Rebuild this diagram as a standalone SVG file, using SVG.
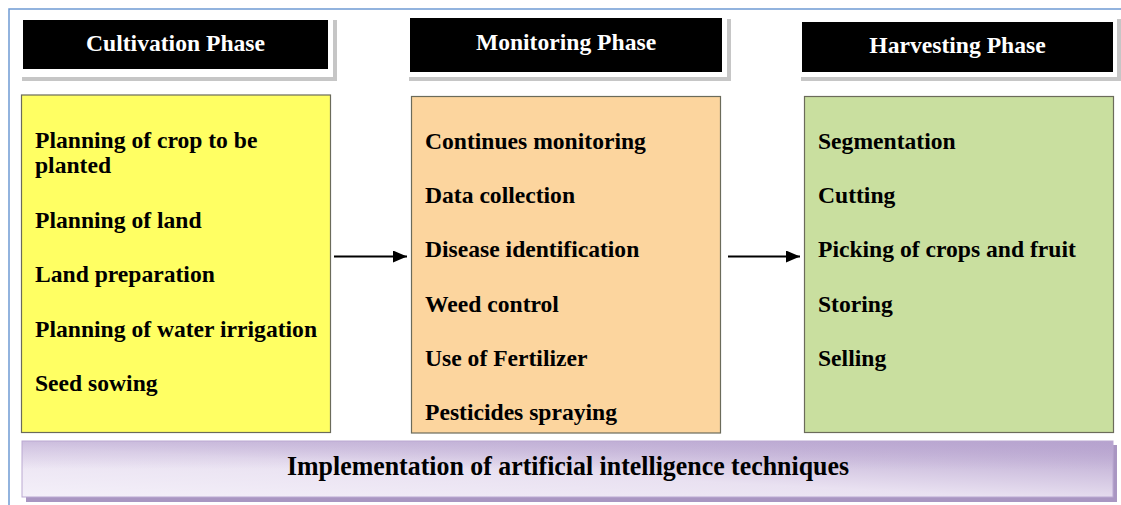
<svg xmlns="http://www.w3.org/2000/svg" width="1121" height="505" viewBox="0 0 1121 505">
  <style>
    .hdr-panel { fill: #ffffff; }
    .hdr-shadow { fill: #c6c6c6; }
    .hdr-box { fill: #000000; }
    .hdr-text { font-family: "Liberation Serif", "Times New Roman", serif; font-weight: bold; font-size: 23.6px; fill: #ffffff; text-anchor: middle; }
    .phase-box { stroke: #6b6b5a; stroke-width: 1.2; }
    .item { font-family: "Liberation Serif", "Times New Roman", serif; font-weight: bold; font-size: 23.6px; fill: #000000; }
    .conn { stroke: #000000; stroke-width: 2; fill: none; }
    .ai-text { font-family: "Liberation Serif", "Times New Roman", serif; font-weight: bold; font-size: 27px; fill: #000000; }
  </style>
  <defs>
    <marker id="arrowhead" viewBox="0 0 14 12" refX="14" refY="6" markerWidth="14" markerHeight="12" markerUnits="userSpaceOnUse" orient="auto">
      <path d="M0,0 L14,6 L0,12 Z" fill="#000000"/>
    </marker>
    <linearGradient id="aiFill" x1="0" y1="1" x2="1" y2="0">
      <stop offset="0" stop-color="#f4f0f9"/>
      <stop offset="0.45" stop-color="#e9e1f1"/>
      <stop offset="1" stop-color="#b29dcb"/>
    </linearGradient>
    <linearGradient id="aiTop" x1="0" y1="0" x2="0" y2="1">
      <stop offset="0" stop-color="#b9a6d1" stop-opacity="0.55"/>
      <stop offset="0.5" stop-color="#b9a6d1" stop-opacity="0"/>
    </linearGradient>
  </defs>

  <!-- page background and frame -->
  <rect x="0" y="0" width="1121" height="505" fill="#ffffff"/>
  <path d="M9,505 L9,9 L1121,9" fill="none" stroke="#6f9bd3" stroke-width="1.5"/>

  <!-- phase headers -->
  <g id="header-cultivation">
    <rect class="hdr-shadow" x="22" y="20" width="315" height="61"/>
    <rect class="hdr-panel" x="18" y="17" width="315" height="60"/>
    <rect class="hdr-box" x="23" y="20" width="305" height="49"/>
    <text class="hdr-text" x="175.5" y="50.5">Cultivation Phase</text>
  </g>
  <g id="header-monitoring">
    <rect class="hdr-shadow" x="409" y="19" width="322" height="62"/>
    <rect class="hdr-panel" x="405" y="16" width="322" height="61"/>
    <rect class="hdr-box" x="410" y="18" width="312" height="54"/>
    <text class="hdr-text" x="566" y="49.5">Monitoring Phase</text>
  </g>
  <g id="header-harvesting">
    <rect class="hdr-shadow" x="801" y="19" width="320" height="62"/>
    <rect class="hdr-panel" x="797" y="16" width="320" height="61"/>
    <rect class="hdr-box" x="802" y="22" width="311" height="50"/>
    <text class="hdr-text" x="957.5" y="53">Harvesting Phase</text>
  </g>

  <!-- phase content boxes -->
  <g id="cultivation">
    <rect class="phase-box" x="21.5" y="95" width="309" height="337.5" fill="#ffff63"/>
    <text class="item" x="35" y="148">Planning of crop to be</text>
    <text class="item" x="35" y="172.5">planted</text>
    <text class="item" x="35" y="227.5">Planning of land</text>
    <text class="item" x="35" y="282">Land preparation</text>
    <text class="item" x="35" y="337">Planning of water irrigation</text>
    <text class="item" x="35" y="391">Seed sowing</text>
  </g>
  <g id="monitoring">
    <rect class="phase-box" x="411.5" y="96.5" width="309" height="336.5" fill="#fcd59e"/>
    <text class="item" x="425" y="148.5">Continues monitoring</text>
    <text class="item" x="425" y="202.5">Data collection</text>
    <text class="item" x="425" y="257">Disease identification</text>
    <text class="item" x="425" y="311.5">Weed control</text>
    <text class="item" x="425" y="366">Use of Fertilizer</text>
    <text class="item" x="425" y="420">Pesticides spraying</text>
  </g>
  <g id="harvesting">
    <rect class="phase-box" x="804.5" y="96.5" width="309" height="336" fill="#c9df9f"/>
    <text class="item" x="818" y="148.5">Segmentation</text>
    <text class="item" x="818" y="202.5">Cutting</text>
    <text class="item" x="818" y="257">Picking of crops and fruit</text>
    <text class="item" x="818" y="311.5">Storing</text>
    <text class="item" x="818" y="366">Selling</text>
  </g>

  <!-- flow between phases -->
  <g id="connectors">
    <line class="conn" x1="334" y1="256.5" x2="407" y2="256.5" marker-end="url(#arrowhead)"/>
    <line class="conn" x1="728" y1="256.5" x2="800" y2="256.5" marker-end="url(#arrowhead)"/>
  </g>

  <!-- AI techniques band -->
  <g id="ai-techniques">
    <rect x="26" y="445" width="1091" height="57" fill="#a996c2"/>
    <rect x="22" y="441" width="1091" height="56" fill="url(#aiFill)" stroke="#bba9d2" stroke-width="1"/>
    <rect x="22" y="441" width="1091" height="56" fill="url(#aiTop)"/>
    <text class="ai-text" x="287" y="475" textLength="562" lengthAdjust="spacingAndGlyphs">Implementation of artificial intelligence techniques</text>
  </g>
</svg>
